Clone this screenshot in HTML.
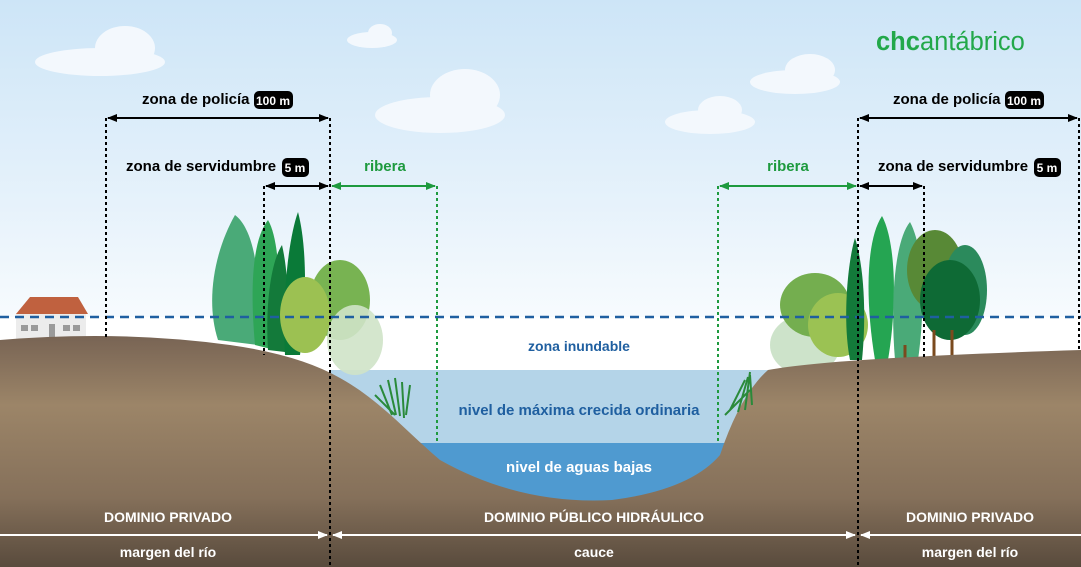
<!DOCTYPE html>
<html><head><meta charset="utf-8"><style>
html,body{margin:0;padding:0;width:1081px;height:567px;overflow:hidden}
svg{display:block;font-family:"Liberation Sans",sans-serif}
</style></head><body>
<svg width="1081" height="567" viewBox="0 0 1081 567" xmlns="http://www.w3.org/2000/svg">
<defs>
<linearGradient id="sky" x1="0" y1="0" x2="0" y2="1">
<stop offset="0" stop-color="#cde5f7"/><stop offset="0.55" stop-color="#e6f2fb"/><stop offset="1" stop-color="#ffffff"/>
</linearGradient>
<linearGradient id="gr" x1="0" y1="0" x2="0" y2="1">
<stop offset="0" stop-color="#786454"/><stop offset="0.3" stop-color="#9c8568"/><stop offset="0.7" stop-color="#85705a"/><stop offset="1" stop-color="#594b3d"/>
</linearGradient>
<marker id="ab" viewBox="0 0 10 10" refX="9" refY="5" markerWidth="5" markerHeight="5" orient="auto-start-reverse"><path d="M0,1 L10,5 L0,9 Z" fill="#000"/></marker>
<marker id="ag" viewBox="0 0 10 10" refX="9" refY="5" markerWidth="5" markerHeight="5" orient="auto-start-reverse"><path d="M0,1 L10,5 L0,9 Z" fill="#1e9a3e"/></marker>
<marker id="aw" viewBox="0 0 10 10" refX="9" refY="5" markerWidth="5" markerHeight="5" orient="auto-start-reverse"><path d="M0,1 L10,5 L0,9 Z" fill="#fff"/></marker>
</defs>
<rect width="1081" height="370" fill="url(#sky)"/>
<rect y="317" width="1081" height="55" fill="#ffffff"/>
<g fill="#f3f8fd">
<ellipse cx="100" cy="62" rx="65" ry="14"/><ellipse cx="125" cy="48" rx="30" ry="22"/>
<ellipse cx="440" cy="115" rx="65" ry="18"/><ellipse cx="465" cy="95" rx="35" ry="26"/>
<ellipse cx="372" cy="40" rx="25" ry="8"/><ellipse cx="380" cy="33" rx="12" ry="9"/>
<ellipse cx="795" cy="82" rx="45" ry="12"/><ellipse cx="810" cy="70" rx="25" ry="16"/>
<ellipse cx="710" cy="122" rx="45" ry="12"/><ellipse cx="720" cy="110" rx="22" ry="14"/>
</g>
<text x="876" y="50" font-size="25.5" fill="#22a84a"><tspan font-weight="bold">chc</tspan>antábrico</text>
<rect x="330" y="370" width="440" height="74" fill="#b4d4e8"/>
<rect x="330" y="443" width="440" height="70" fill="#4f9ad0"/>
<rect x="16" y="313" width="70" height="26" fill="#ececec"/>
<path d="M16,314 L30,297 L78,297 L88,314 Z" fill="#c0613f"/>
<g fill="#9a9a9a"><rect x="21" y="325" width="7" height="6"/><rect x="31" y="325" width="7" height="6"/><rect x="49" y="324" width="6" height="14"/><rect x="63" y="325" width="7" height="6"/><rect x="73" y="325" width="7" height="6"/></g>
<path d="M218,340 C205,300 215,250 235,215 C255,230 262,280 258,345 Z" fill="#4aaa78"/>
<path d="M255,345 C250,290 252,240 268,220 C280,240 282,300 275,350 Z" fill="#2ea556"/>
<path d="M268,350 C265,300 272,260 282,245 C290,280 288,320 285,352 Z" fill="#137a3a"/>
<path d="M285,355 C282,300 288,240 298,212 C308,250 306,310 300,355 Z" fill="#0a7a38"/>
<ellipse cx="340" cy="300" rx="30" ry="40" fill="#78b352"/>
<ellipse cx="305" cy="315" rx="25" ry="38" fill="#9cc152"/>
<ellipse cx="355" cy="340" rx="28" ry="35" fill="#cfe3c8" opacity="0.9"/>
<ellipse cx="805" cy="345" rx="35" ry="30" fill="#c8e0c4" opacity="0.9"/>
<ellipse cx="815" cy="305" rx="35" ry="32" fill="#74ae4f"/>
<ellipse cx="838" cy="325" rx="30" ry="32" fill="#9bc253"/>
<path d="M850,360 C842,320 848,260 855,238 C865,270 866,320 862,360 Z" fill="#137a3a"/>
<path d="M875,360 C865,300 866,240 882,216 C895,240 898,300 888,360 Z" fill="#25a552"/>
<path d="M895,360 C890,300 895,240 910,222 C925,250 925,310 918,360 Z" fill="#4aaa78"/>
<ellipse cx="935" cy="270" rx="28" ry="40" fill="#588936"/>
<ellipse cx="965" cy="290" rx="22" ry="45" fill="#2b8a5c"/>
<ellipse cx="950" cy="300" rx="30" ry="40" fill="#0e6a35"/>
<g stroke="#7a4a1e" stroke-width="3"><line x1="934" y1="330" x2="934" y2="358"/><line x1="952" y1="330" x2="952" y2="355"/><line x1="905" y1="345" x2="905" y2="362"/></g>
<path d="M0,340 Q120,330 230,345 Q300,355 340,378 C380,400 410,435 440,460 Q520,505 612,500 Q690,490 720,455 Q740,395 768,370 Q830,358 1081,350 L1081,567 L0,567 Z" fill="url(#gr)"/>
<g stroke="#2a8a3a" stroke-width="2" fill="none">
<path d="M380,385 l12,30 M388,380 l8,35 M395,378 l5,38 M402,382 l2,36 M410,385 l-4,30 M375,395 l20,20"/>
<path d="M730,410 l15,-30 M738,412 l10,-35 M745,410 l5,-38 M752,405 l-2,-30 M725,415 l25,-25"/>
</g>
<text x="579" y="351" font-size="14" font-weight="bold" fill="#1f5fa0" text-anchor="middle">zona inundable</text>
<text x="579" y="415" font-size="15" font-weight="bold" fill="#1f5fa0" text-anchor="middle">nivel de máxima crecida ordinaria</text>
<text x="579" y="472" font-size="15" font-weight="bold" fill="#ffffff" text-anchor="middle">nivel de aguas bajas</text>
<line x1="0" y1="317" x2="1081" y2="317" stroke="#1f5fa0" stroke-width="2.5" stroke-dasharray="9,6"/>
<g stroke="#000" stroke-width="2" stroke-dasharray="3,3">
<line x1="106" y1="118" x2="106" y2="340"/>
<line x1="264" y1="186" x2="264" y2="355"/>
<line x1="330" y1="118" x2="330" y2="567"/>
<line x1="858" y1="118" x2="858" y2="567"/>
<line x1="924" y1="186" x2="924" y2="360"/>
<line x1="1079" y1="118" x2="1079" y2="350"/>
</g>
<g stroke="#1e9a3e" stroke-width="2" stroke-dasharray="3,3">
<line x1="437" y1="186" x2="437" y2="443"/>
<line x1="718" y1="186" x2="718" y2="443"/>
</g>
<g stroke="#000" stroke-width="2">
<line x1="108" y1="118" x2="328" y2="118" marker-start="url(#ab)" marker-end="url(#ab)"/>
<line x1="266" y1="186" x2="328" y2="186" marker-start="url(#ab)" marker-end="url(#ab)"/>
<line x1="860" y1="118" x2="1077" y2="118" marker-start="url(#ab)" marker-end="url(#ab)"/>
<line x1="860" y1="186" x2="922" y2="186" marker-start="url(#ab)" marker-end="url(#ab)"/>
</g>
<g stroke="#1e9a3e" stroke-width="2">
<line x1="332" y1="186" x2="435" y2="186" marker-start="url(#ag)" marker-end="url(#ag)"/>
<line x1="720" y1="186" x2="856" y2="186" marker-start="url(#ag)" marker-end="url(#ag)"/>
</g>
<g font-size="15" font-weight="bold" fill="#000">
<text x="142" y="104">zona de policía</text>
<rect x="254" y="91" width="39" height="18" rx="5"/><text x="273" y="105" fill="#fff" text-anchor="middle" font-size="12">100 m</text>
<text x="126" y="171">zona de servidumbre</text>
<rect x="282" y="158" width="27" height="19" rx="5"/><text x="295" y="172" fill="#fff" text-anchor="middle" font-size="12">5 m</text>
<text x="893" y="104">zona de policía</text>
<rect x="1005" y="91" width="39" height="18" rx="5"/><text x="1024" y="105" fill="#fff" text-anchor="middle" font-size="12">100 m</text>
<text x="878" y="171">zona de servidumbre</text>
<rect x="1034" y="158" width="27" height="19" rx="5"/><text x="1047" y="172" fill="#fff" text-anchor="middle" font-size="12">5 m</text>
</g>
<g font-size="15" font-weight="bold" fill="#1e9a3e" text-anchor="middle">
<text x="385" y="171">ribera</text><text x="788" y="171">ribera</text>
</g>
<g stroke="#fff" stroke-width="2">
<line x1="0" y1="535" x2="327" y2="535" marker-end="url(#aw)"/>
<line x1="333" y1="535" x2="855" y2="535" marker-start="url(#aw)" marker-end="url(#aw)"/>
<line x1="861" y1="535" x2="1081" y2="535" marker-start="url(#aw)"/>
</g>
<g font-size="14" font-weight="bold" fill="#fff" text-anchor="middle">
<text x="168" y="522">DOMINIO PRIVADO</text>
<text x="594" y="522">DOMINIO PÚBLICO HIDRÁULICO</text>
<text x="970" y="522">DOMINIO PRIVADO</text>
<text x="168" y="557">margen del río</text>
<text x="594" y="557">cauce</text>
<text x="970" y="557">margen del río</text>
</g>
</svg>
</body></html>
